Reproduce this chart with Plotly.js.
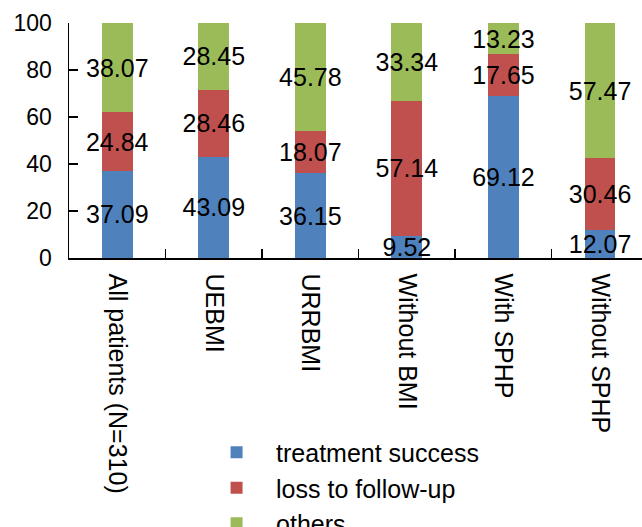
<!DOCTYPE html>
<html>
<head>
<meta charset="utf-8">
<script src="https://cdn.plot.ly/plotly-3.0.1.min.js"></script>
<style>html,body{margin:0;padding:0;background:#fff;}#chart{width:642px;height:527px;}</style>
</head>
<body>
<div id="chart"></div>
<script>
var categories = ["All patients (N=310)", "UEBMI", "URRBMI", "Without BMI", "With SPHP", "Without SPHP"];
var treatmentSuccess = [37.09, 43.09, 36.15, 9.52, 69.12, 12.07];
var lossToFollowUp = [24.84, 28.46, 18.07, 57.14, 17.65, 30.46];
var others = [38.07, 28.45, 45.78, 33.34, 13.23, 57.47];
var seriesNames = ["treatment success", "loss to follow-up", "others"];
var seriesColors = ["#4F81BD", "#C0504D", "#9BBB59"];
var yTicks = [0, 20, 40, 60, 80, 100];

var FONT = "Liberation Sans, Arial, sans-serif";
var series = [treatmentSuccess, lossToFollowUp, others];
var traces = series.map(function (vals, i) {
  return {
    type: "bar",
    name: seriesNames[i],
    x: categories,
    y: vals,
    width: 0.32,
    marker: {color: seriesColors[i], line: {width: 0}},
    text: vals.map(function (v) { return v.toFixed(2); }),
    texttemplate: "%{text}",
    textposition: "inside",
    insidetextanchor: "middle",
    constraintext: "none",
    textangle: 0,
    insidetextfont: {family: FONT, size: 25, color: "#000"},
    cliponaxis: false,
    hoverinfo: "skip"
  };
});

var layout = {
  width: 642,
  height: 527,
  barmode: "stack",
  showlegend: true,
  paper_bgcolor: "#fff",
  plot_bgcolor: "#fff",
  margin: {l: 69, r: 0, t: 23, b: 269, pad: 0, autoexpand: false},
  font: {family: FONT, size: 25, color: "#000"},
  xaxis: {
    type: "category",
    range: [-0.5, 5.435],
    showline: true,
    linecolor: "#000",
    linewidth: 1.5,
    ticks: "inside",
    tickson: "boundaries",
    ticklen: 9,
    tickwidth: 1.5,
    tickcolor: "#000",
    tickangle: 90,
    ticklabelstandoff: 9,
    tickfont: {family: FONT, size: 25, color: "#000"},
    showgrid: false,
    zeroline: false,
    automargin: false
  },
  yaxis: {
    range: [0, 100.0005],
    tickvals: yTicks,
    ticktext: yTicks.map(String),
    showline: true,
    linecolor: "#000",
    linewidth: 1.5,
    ticks: "inside",
    ticklen: 9,
    tickwidth: 1.5,
    tickcolor: "#000",
    ticklabelstandoff: 11,
    tickfont: {family: FONT, size: 23, color: "#000"},
    showgrid: false,
    zeroline: false,
    automargin: false
  },
  legend: {
    x: 0.2235,
    y: -0.73,
    xanchor: "left",
    yanchor: "top",
    orientation: "v",
    traceorder: "normal",
    itemwidth: 69,
    bgcolor: "rgba(0,0,0,0)",
    font: {family: FONT, size: 25, color: "#000"}
  }
};

Plotly.newPlot("chart", traces, layout, {staticPlot: true, displayModeBar: false});
</script>
</body>
</html>
